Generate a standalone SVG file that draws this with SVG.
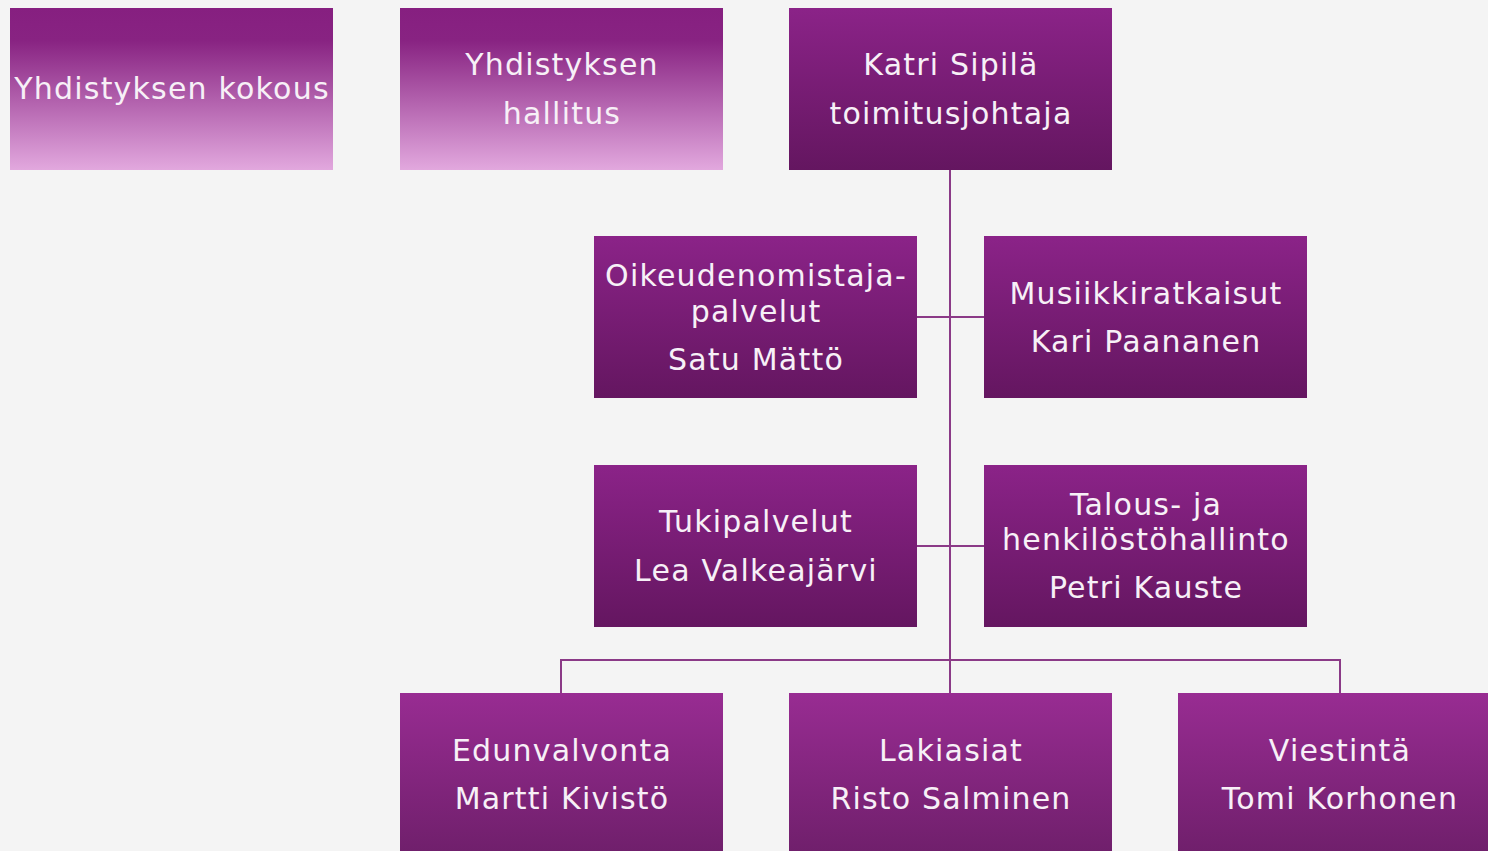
<svg xmlns="http://www.w3.org/2000/svg" width="1488" height="851" viewBox="0 0 1488 851">
<defs>
<linearGradient id="light" x1="0" y1="0" x2="0" y2="1">
<stop offset="0" stop-color="#861F80"/>
<stop offset="0.2" stop-color="#882382"/>
<stop offset="1" stop-color="#E2A8DE"/>
</linearGradient>
<linearGradient id="dark" x1="0" y1="0" x2="0" y2="1">
<stop offset="0" stop-color="#8B2388"/>
<stop offset="1" stop-color="#641660"/>
</linearGradient>
<linearGradient id="mid" x1="0" y1="0" x2="0" y2="1">
<stop offset="0" stop-color="#982C92"/>
<stop offset="1" stop-color="#6F1F6B"/>
</linearGradient>
<style>
text{font-family:"DejaVu Sans",Verdana,sans-serif;font-size:30px;letter-spacing:1.2px;fill:#F7F0F7;text-anchor:middle}
.c{stroke:#8B3A87;stroke-width:2;fill:none}
</style>
</defs>
<rect width="1488" height="851" fill="#F4F4F4"/>
<g id="connectors">
<path class="c" d="M950 170V693M917 317H984M917 546H984M561 693V660H1340V693"/>
</g>
<g id="n1"><rect x="10" y="8" width="323" height="162" fill="url(#light)"/><text x="172" y="99">Yhdistyksen kokous</text></g>
<g id="n2"><rect x="400" y="8" width="323" height="162" fill="url(#light)"/><text x="562" y="75">Yhdistyksen</text><text x="562" y="124">hallitus</text></g>
<g id="n3"><rect x="789" y="8" width="323" height="162" fill="url(#dark)"/><text x="951" y="75">Katri Sipilä</text><text x="951" y="124">toimitusjohtaja</text></g>
<g id="n4"><rect x="594" y="236" width="323" height="162" fill="url(#dark)"/><text x="756" y="286">Oikeudenomistaja-</text><text x="756" y="322">palvelut</text><text x="756" y="370">Satu Mättö</text></g>
<g id="n5"><rect x="984" y="236" width="323" height="162" fill="url(#dark)"/><text x="1146" y="304">Musiikkiratkaisut</text><text x="1146" y="352">Kari Paananen</text></g>
<g id="n6"><rect x="594" y="465" width="323" height="162" fill="url(#dark)"/><text x="756" y="532">Tukipalvelut</text><text x="756" y="581">Lea Valkeajärvi</text></g>
<g id="n7"><rect x="984" y="465" width="323" height="162" fill="url(#dark)"/><text x="1146" y="515">Talous- ja</text><text x="1146" y="550">henkilöstöhallinto</text><text x="1146" y="598">Petri Kauste</text></g>
<g id="n8"><rect x="400" y="693" width="323" height="162" fill="url(#mid)"/><text x="562" y="761">Edunvalvonta</text><text x="562" y="809">Martti Kivistö</text></g>
<g id="n9"><rect x="789" y="693" width="323" height="162" fill="url(#mid)"/><text x="951" y="761">Lakiasiat</text><text x="951" y="809">Risto Salminen</text></g>
<g id="n10"><rect x="1178" y="693" width="323" height="162" fill="url(#mid)"/><text x="1340" y="761">Viestintä</text><text x="1340" y="809">Tomi Korhonen</text></g>
</svg>
